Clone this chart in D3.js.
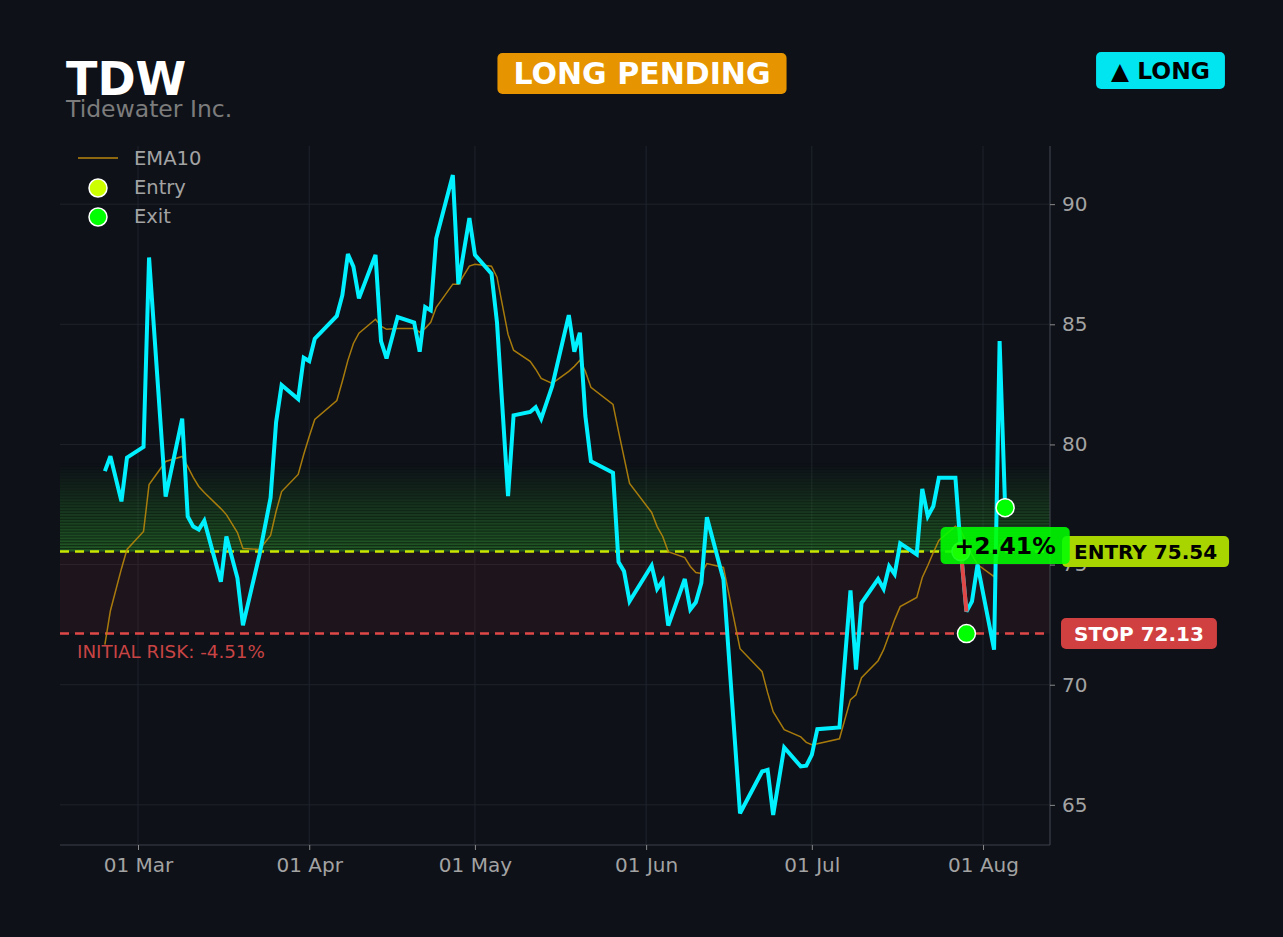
<!DOCTYPE html>
<html>
<head>
<meta charset="utf-8">
<script src="https://cdn.jsdelivr.net/npm/d3@7/dist/d3.min.js"></script>
<style>
  html, body { margin: 0; padding: 0; background: #0e1118; }
  svg { display: block; font-family: "DejaVu Sans", sans-serif; }
</style>
</head>
<body>
<svg id="chart" width="1283" height="937"></svg>
<script>
// ---- data ----
var ticker = "TDW";
var company = "Tidewater Inc.";
var status = "LONG PENDING";
var side = "\u25B2 LONG";

var dates = [
  "2025-02-23","2025-02-24","2025-02-26","2025-02-27","2025-03-02","2025-03-03","2025-03-06","2025-03-09",
  "2025-03-10","2025-03-11","2025-03-12","2025-03-13","2025-03-16","2025-03-17","2025-03-19","2025-03-20",
  "2025-03-23","2025-03-25","2025-03-26","2025-03-27","2025-03-30","2025-03-31","2025-04-01","2025-04-02",
  "2025-04-06","2025-04-07","2025-04-08","2025-04-09","2025-04-10","2025-04-13","2025-04-14","2025-04-15",
  "2025-04-17","2025-04-20","2025-04-21","2025-04-22","2025-04-23","2025-04-24","2025-04-27","2025-04-28",
  "2025-04-30","2025-05-01","2025-05-04","2025-05-05","2025-05-07","2025-05-08","2025-05-11","2025-05-12",
  "2025-05-13","2025-05-15","2025-05-18","2025-05-19","2025-05-20","2025-05-21","2025-05-22","2025-05-26",
  "2025-05-27","2025-05-28","2025-05-29","2025-06-02","2025-06-03","2025-06-04","2025-06-05","2025-06-08",
  "2025-06-09","2025-06-10","2025-06-11","2025-06-12","2025-06-15","2025-06-18","2025-06-22","2025-06-23",
  "2025-06-24","2025-06-26","2025-06-29","2025-06-30","2025-07-01","2025-07-02","2025-07-06","2025-07-08",
  "2025-07-09","2025-07-10","2025-07-13","2025-07-14","2025-07-15","2025-07-16","2025-07-17","2025-07-20",
  "2025-07-21","2025-07-22","2025-07-23","2025-07-24","2025-07-27","2025-07-28","2025-07-29","2025-07-30",
  "2025-07-31","2025-08-03","2025-08-04","2025-08-05"
];

var close = [
  78.89, 79.51, 77.63, 79.45, 79.90, 87.78, 77.83, 81.07,
  77.00, 76.58, 76.46, 76.83, 74.29, 76.17, 74.44, 72.47,
  75.42, 77.78, 80.92, 82.47, 81.89, 83.61, 83.47, 84.40,
  85.35, 86.21, 87.92, 87.40, 86.08, 87.89, 84.30, 83.58,
  85.30, 85.07, 83.86, 85.72, 85.58, 88.58, 91.21, 86.67,
  89.42, 87.89, 87.11, 85.07, 77.85, 81.21, 81.35, 81.55,
  81.07, 82.43, 85.38, 83.86, 84.65, 81.18, 79.30, 78.82,
  75.11, 74.72, 73.47, 74.96, 73.99, 74.33, 72.46, 74.40,
  73.13, 73.43, 74.24, 76.97, 74.38, 64.65, 66.39, 66.46,
  64.58, 67.39, 66.60, 66.63, 67.08, 68.15, 68.22, 73.93,
  70.63, 73.40, 74.40, 73.99, 74.93, 74.60, 75.88, 75.42,
  78.15, 77.01, 77.43, 78.61, 78.61, 75.54, 73.04, 73.47,
  75.00, 71.46, 84.30, 77.37
];

var ema10 = [
  71.67, 73.08, 74.83, 75.63, 76.38, 78.33, 79.29, 79.50,
  79.08, 78.63, 78.25, 78.00, 77.33, 77.08, 76.33, 75.67,
  75.63, 76.21, 77.21, 78.04, 78.75, 79.58, 80.33, 81.04,
  81.83, 82.63, 83.50, 84.20, 84.63, 85.21, 84.92, 84.79,
  84.83, 84.83, 84.67, 84.83, 85.08, 85.71, 86.67, 86.67,
  87.42, 87.50, 87.42, 86.96, 84.58, 83.92, 83.46, 83.13,
  82.75, 82.54, 83.04, 83.25, 83.50, 83.04, 82.38, 81.67,
  80.54, 79.46, 78.38, 77.17, 76.58, 76.17, 75.54, 75.29,
  74.92, 74.67, 74.63, 75.04, 74.88, 71.50, 70.54, 69.67,
  68.88, 68.13, 67.83, 67.60, 67.50, 67.54, 67.75, 69.38,
  69.58, 70.29, 71.00, 71.46, 72.08, 72.71, 73.25, 73.63,
  74.46, 74.96, 75.50, 76.00, 76.60, 76.40, 75.90, 75.40,
  75.00, 74.50, 75.80, 76.10
];

var entryPrice = 75.54;
var stopPrice = 72.13;
var entryDate = "2025-07-28";
var exitDates = ["2025-07-29", "2025-08-05"];
var exitPrices = [72.13, 77.37];
var tradeReturn = "+2.41%";
var initialRisk = "INITIAL RISK: -4.51%";
var bandTop = 79.2;   // where the green zone fades out
var yTicks = [65, 70, 75, 80, 85, 90];
var xDomain = ["2025-02-14T21:00", "2025-08-13T03:00"];
var yDomain = [63.33, 92.42];

// ---- layout ----
var parse = d3.timeParse("%Y-%m-%d");
var parseT = d3.timeParse("%Y-%m-%dT%H:%M");
var svg = d3.select("#chart");
var W = 1283, H = 937;
var plot = {left: 60, right: 1050, top: 146, bottom: 845};
var bg = "#0e1118";
var grey = "#a3a3a3";
var font = "DejaVu Sans";

svg.append("rect").attr("width", W).attr("height", H).attr("fill", bg);

var x = d3.scaleTime().domain(xDomain.map(parseT)).range([plot.left, plot.right]);
var y = d3.scaleLinear().domain(yDomain).range([plot.bottom, plot.top]);

var rows = dates.map(function(d, i) {
  return {date: parse(d), close: close[i], ema: ema10[i]};
});

svg.append("defs").append("clipPath").attr("id", "clip")
  .append("rect")
  .attr("x", plot.left).attr("y", plot.top)
  .attr("width", plot.right - plot.left).attr("height", plot.bottom - plot.top);

var g = svg.append("g").attr("clip-path", "url(#clip)");

// grid
g.selectAll("line.hgrid").data(yTicks).enter().append("line")
  .attr("x1", plot.left).attr("x2", plot.right)
  .attr("y1", function(d) { return y(d); }).attr("y2", function(d) { return y(d); })
  .attr("stroke", "#1f232b").attr("stroke-width", 1);
var monthTicks = x.ticks(d3.timeMonth.every(1));
g.selectAll("line.vgrid").data(monthTicks).enter().append("line")
  .attr("x1", function(d) { return x(d); }).attr("x2", function(d) { return x(d); })
  .attr("y1", plot.top).attr("y2", plot.bottom)
  .attr("stroke", "#1f232b").attr("stroke-width", 1);

// risk zone between stop and entry
g.append("rect")
  .attr("x", plot.left).attr("width", plot.right - plot.left)
  .attr("y", y(entryPrice)).attr("height", y(stopPrice) - y(entryPrice))
  .attr("fill", "#b0303c").attr("opacity", 0.1);

// green profit zone, striped fade above entry
var nBands = 30;
var bandStep = (bandTop - entryPrice) / nBands;
var bands = d3.range(nBands).map(function(i) {
  return {lo: entryPrice + i * bandStep, hi: entryPrice + (i + 1) * bandStep, k: i / nBands};
});
g.selectAll("rect.band").data(bands).enter().append("rect")
  .attr("x", plot.left).attr("width", plot.right - plot.left)
  .attr("y", function(d) { return y(d.hi); })
  .attr("height", function(d) { return y(d.lo) - y(d.hi); })
  .attr("fill", "#33a033")
  .attr("opacity", function(d) { return 0.5 * Math.pow(1 - d.k, 1.1); });
g.selectAll("line.band").data(bands).enter().append("line")
  .attr("x1", plot.left).attr("x2", plot.right)
  .attr("y1", function(d) { return y(d.hi); }).attr("y2", function(d) { return y(d.hi); })
  .attr("stroke", "#08120a").attr("stroke-width", 0.9)
  .attr("opacity", function(d) { return 0.75 * (1 - d.k); });

// entry / stop dashed lines
g.append("line")
  .attr("x1", plot.left).attr("x2", plot.right)
  .attr("y1", y(entryPrice)).attr("y2", y(entryPrice))
  .attr("stroke", "#c8e600").attr("stroke-width", 2.5).attr("stroke-dasharray", "9,6");
g.append("line")
  .attr("x1", plot.left).attr("x2", plot.right)
  .attr("y1", y(stopPrice)).attr("y2", y(stopPrice))
  .attr("stroke", "#e04848").attr("stroke-width", 2.5).attr("stroke-dasharray", "9,6");

// EMA10
var emaLine = d3.line().x(function(d) { return x(d.date); }).y(function(d) { return y(d.ema); });
g.append("path").datum(rows)
  .attr("d", emaLine).attr("fill", "none")
  .attr("stroke", "#b8860b").attr("stroke-width", 1.5).attr("opacity", 0.9);

// price
var priceLine = d3.line().x(function(d) { return x(d.date); }).y(function(d) { return y(d.close); });
g.append("path").datum(rows)
  .attr("d", priceLine).attr("fill", "none")
  .attr("stroke", "#00f0ff").attr("stroke-width", 4)
  .attr("stroke-linejoin", "miter").attr("stroke-miterlimit", 3);

// losing leg of the trade in red
var ei = dates.indexOf(entryDate);
g.append("path").datum(rows.slice(ei, ei + 2))
  .attr("d", priceLine).attr("fill", "none")
  .attr("stroke", "#e04848").attr("stroke-width", 4);

// entry + exit markers
g.append("circle")
  .attr("cx", x(parse(entryDate))).attr("cy", y(entryPrice)).attr("r", 9)
  .attr("fill", "#ccff00").attr("stroke", "#ffffff").attr("stroke-width", 1.5);
g.selectAll("circle.exit").data(exitDates).enter().append("circle")
  .attr("cx", function(d) { return x(parse(d)); })
  .attr("cy", function(d, i) { return y(exitPrices[i]); })
  .attr("r", 9)
  .attr("fill", "#00ff00").attr("stroke", "#ffffff").attr("stroke-width", 1.5);

// initial risk text
svg.append("text")
  .attr("x", 77).attr("y", y(stopPrice) + 24)
  .attr("fill", "#c84444").attr("font-size", 18.3).attr("font-family", font)
  .text(initialRisk);

// spines
svg.append("line").attr("x1", plot.left).attr("x2", plot.right)
  .attr("y1", plot.bottom).attr("y2", plot.bottom)
  .attr("stroke", "#3c4048").attr("stroke-width", 1.2);
svg.append("line").attr("x1", plot.right).attr("x2", plot.right)
  .attr("y1", plot.top).attr("y2", plot.bottom)
  .attr("stroke", "#3c4048").attr("stroke-width", 1.2);

// axes
var xAxis = d3.axisBottom(x).tickValues(monthTicks).tickFormat(d3.timeFormat("%d %b"))
  .tickSize(5).tickPadding(8);
var xa = svg.append("g").attr("transform", "translate(0," + plot.bottom + ")").call(xAxis);
var yAxis = d3.axisRight(y).tickValues(yTicks).tickSize(5).tickPadding(7);
var ya = svg.append("g").attr("transform", "translate(" + plot.right + ",0)").call(yAxis);
[xa, ya].forEach(function(a) {
  a.select(".domain").remove();
  a.selectAll(".tick line").attr("stroke", "#8a8a8a");
  a.selectAll(".tick text").attr("fill", grey).attr("font-size", 20).attr("font-family", font);
});

// legend
var lg = svg.append("g");
lg.append("line").attr("x1", 78).attr("x2", 118).attr("y1", 158).attr("y2", 158)
  .attr("stroke", "#b8860b").attr("stroke-width", 1.6);
lg.append("circle").attr("cx", 98).attr("cy", 188).attr("r", 9)
  .attr("fill", "#ccff00").attr("stroke", "#fff").attr("stroke-width", 1.5);
lg.append("circle").attr("cx", 98).attr("cy", 217).attr("r", 9)
  .attr("fill", "#00ff00").attr("stroke", "#fff").attr("stroke-width", 1.5);
lg.selectAll("text").data(["EMA10", "Entry", "Exit"]).enter().append("text")
  .attr("x", 134).attr("y", function(d, i) { return 165 + i * 29; })
  .attr("fill", grey).attr("font-size", 19.5).attr("font-family", font)
  .text(function(d) { return d; });

// header
svg.append("text").attr("x", 66).attr("y", 95)
  .attr("fill", "#ffffff").attr("font-size", 46).attr("font-weight", "bold").attr("font-family", font)
  .text(ticker);
svg.append("text").attr("x", 66).attr("y", 117)
  .attr("fill", "#7c7c7c").attr("font-size", 23.5).attr("font-family", font)
  .text(company);

function badge(cx, cy, txt, size, fill, color, padX, h, opacity, anchor) {
  var grp = svg.append("g");
  var box = grp.append("rect");
  var t = grp.append("text")
    .attr("font-size", size).attr("font-weight", "bold").attr("font-family", font)
    .attr("fill", color).attr("dominant-baseline", "central")
    .text(txt);
  var w = t.node().getComputedTextLength() + 2 * padX;
  var left = anchor === "start" ? cx : cx - w / 2;
  t.attr("x", left + padX).attr("y", cy);
  box.attr("x", left).attr("y", cy - h / 2).attr("width", w).attr("height", h)
    .attr("rx", 5).attr("fill", fill).attr("opacity", opacity);
  return grp;
}

badge(642, 73.5, status, 30, "#e69500", "#ffffff", 16, 41, 1, "middle");
badge(1160.5, 70.5, side, 23.4, "#00e5f0", "#000000", 15, 37, 1, "middle");
badge(1062, y(entryPrice), "ENTRY " + entryPrice.toFixed(2), 20, "#a8d400", "#000000", 12, 31, 1, "start");
badge(1061, y(stopPrice), "STOP " + stopPrice.toFixed(2), 20, "#d04040", "#ffffff", 13, 31, 1, "start");
badge(x(parse(exitDates[1])), y(entryPrice) - 6, tradeReturn, 23.5, "#00ff00", "#000000", 14, 37, 0.88, "middle");
</script>
</body>
</html>
